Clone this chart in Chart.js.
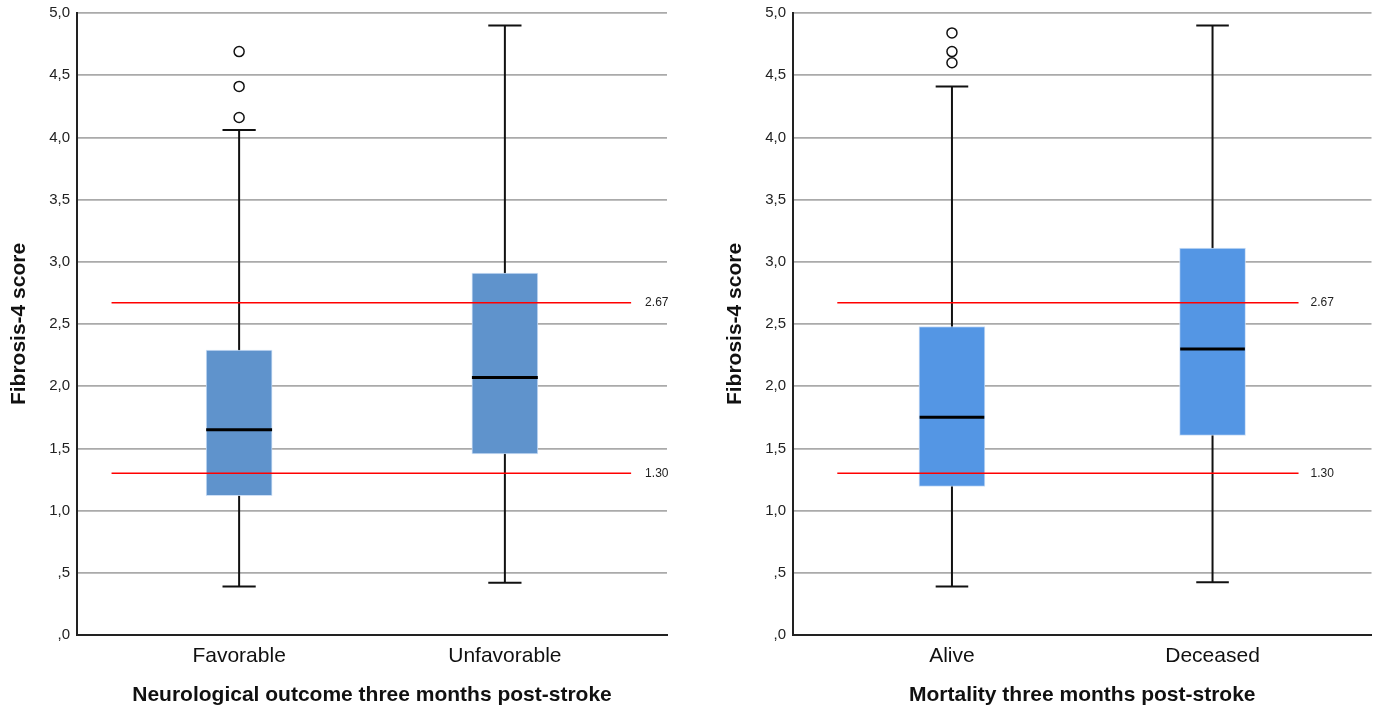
<!DOCTYPE html>
<html>
<head>
<meta charset="utf-8">
<script src="https://cdn.jsdelivr.net/npm/chart.js@4.4.1/dist/chart.umd.min.js"></script>
<style>
    html, body { margin: 0; padding: 0; background: #fff; }
    .panel { position: absolute; top: 0; }
    #panelLeft { left: 0; }
    #panelRight { left: 716px; }
</style>
</head>
<body>
<div class="panel" id="panelLeft"><canvas id="outcomeChart" width="680" height="708"></canvas></div>
<div class="panel" id="panelRight"><canvas id="mortalityChart" width="662" height="708"></canvas></div>
<script>
// ============ DATA ============
const yTicks = [0, 0.5, 1, 1.5, 2, 2.5, 3, 3.5, 4, 4.5, 5];
const cutoffValues = [2.67, 1.30];
const cutoffLabels = ['2.67', '1.30'];

const outcomeCategories = ['Favorable', 'Unfavorable'];
const outcomeLow = [0.39, 0.42];
const outcomeQ1 = [1.12, 1.455];
const outcomeMedian = [1.65, 2.07];
const outcomeQ3 = [2.29, 2.91];
const outcomeHigh = [4.06, 4.90];
const outcomeOutliers = [[4.16, 4.41, 4.69], []];

const mortalityCategories = ['Alive', 'Deceased'];
const mortalityLow = [0.39, 0.425];
const mortalityQ1 = [1.195, 1.605];
const mortalityMedian = [1.75, 2.30];
const mortalityQ3 = [2.48, 3.11];
const mortalityHigh = [4.41, 4.90];
const mortalityOutliers = [[4.60, 4.69, 4.84], []];

const FONT = '"Liberation Sans", Arial, sans-serif';

// ============ BOX PLOT PARTS (whiskers, caps, medians, cut-off lines) ============
const boxPartsPlugin = {
    id: 'boxParts',
    beforeDatasetsDraw(chart, args, opts) {
        const { ctx, scales: { x, y } } = chart;
        ctx.save();
        ctx.strokeStyle = '#111';
        ctx.lineWidth = 2;
        opts.low.forEach((lo, i) => {
            const cx = x.getPixelForValue(i);
            ctx.beginPath();
            ctx.moveTo(cx, y.getPixelForValue(lo));
            ctx.lineTo(cx, y.getPixelForValue(opts.high[i]));
            ctx.stroke();
            [lo, opts.high[i]].forEach(v => {
                const py = y.getPixelForValue(v);
                ctx.beginPath();
                ctx.moveTo(x.getPixelForValue(i - 0.0625), py);
                ctx.lineTo(x.getPixelForValue(i + 0.0625), py);
                ctx.stroke();
            });
        });
        ctx.restore();
    },
    afterDatasetsDraw(chart, args, opts) {
        const { ctx, scales: { x, y } } = chart;
        ctx.save();
        ctx.strokeStyle = '#000';
        ctx.lineWidth = 3;
        opts.median.forEach((m, i) => {
            const py = y.getPixelForValue(m);
            ctx.beginPath();
            ctx.moveTo(x.getPixelForValue(i - 0.124), py);
            ctx.lineTo(x.getPixelForValue(i + 0.124), py);
            ctx.stroke();
        });
        ctx.strokeStyle = '#ff0000';
        ctx.lineWidth = 1.5;
        ctx.fillStyle = '#222';
        ctx.font = '12px ' + FONT;
        ctx.textBaseline = 'middle';
        cutoffValues.forEach((v, i) => {
            const py = y.getPixelForValue(v);
            const xEnd = x.getPixelForValue(opts.lineTo);
            ctx.beginPath();
            ctx.moveTo(x.getPixelForValue(opts.lineFrom), py);
            ctx.lineTo(xEnd, py);
            ctx.stroke();
            ctx.fillText(cutoffLabels[i], xEnd + opts.labelGap, py);
        });
        ctx.restore();
    }
};

// ============ CHART FACTORY ============
function initBoxChart(canvasId, title, cats, low, q1, median, q3, high, outliers, boxColor, lineFrom, lineTo, labelGap, rightPad) {
    const el = document.getElementById(canvasId);
    if (!el) return null;

    const boxData = cats.map((c, i) => ({ x: i, y: [q1[i], q3[i]] }));
    const outlierData = [];
    outliers.forEach((list, i) => list.forEach(v => outlierData.push({ x: i, y: v })));

    return new Chart(el.getContext('2d'), {
        data: {
            datasets: [
                {
                    type: 'bar',
                    data: boxData,
                    backgroundColor: boxColor,
                    borderColor: 'rgba(200, 220, 245, 0.9)',
                    borderWidth: 1,
                    borderSkipped: false,
                    barThickness: 66,
                    order: 2
                },
                {
                    type: 'scatter',
                    data: outlierData,
                    pointStyle: 'circle',
                    pointRadius: 5,
                    pointBackgroundColor: '#fff',
                    pointBorderColor: '#111',
                    pointBorderWidth: 1.5,
                    order: 1
                }
            ]
        },
        options: {
            responsive: false,
            animation: false,
            layout: { padding: { top: 13, right: rightPad, left: 0, bottom: 0 } },
            plugins: {
                legend: { display: false },
                tooltip: { enabled: false },
                boxParts: { low: low, high: high, median: median, lineFrom: lineFrom, lineTo: lineTo, labelGap: labelGap }
            },
            scales: {
                x: {
                    type: 'linear',
                    min: -0.61,
                    max: 1.61,
                    offset: false,
                    afterBuildTicks: s => { s.ticks = cats.map((c, i) => ({ value: i })); },
                    afterFit: s => { s.height = 73; },
                    grid: { display: false, drawTicks: false },
                    border: { display: true, color: '#222', width: 2 },
                    ticks: {
                        padding: 9,
                        autoSkip: false,
                        maxRotation: 0,
                        color: '#111',
                        font: { family: FONT, size: 21 },
                        callback: v => cats[v]
                    },
                    title: {
                        display: true,
                        text: title,
                        color: '#111',
                        padding: { top: 0, bottom: 0 },
                        font: { family: FONT, size: 21, weight: 'bold' }
                    }
                },
                y: {
                    min: 0,
                    max: 5,
                    afterBuildTicks: s => { s.ticks = yTicks.map(v => ({ value: v })); },
                    afterFit: s => { s.width = 77; s.paddingTop = 0; s.paddingBottom = 0; },
                    grid: { color: '#aaaaaa', lineWidth: 1.7, drawTicks: false },
                    border: { display: true, color: '#222', width: 2 },
                    ticks: {
                        padding: 7,
                        color: '#222',
                        font: { family: FONT, size: 15 },
                        callback: v => v.toFixed(1).replace('.', ',').replace(/^0/, '')
                    },
                    title: {
                        display: true,
                        text: 'Fibrosis-4 score',
                        color: '#111',
                        padding: { top: 7, bottom: 0 },
                        font: { family: FONT, size: 21, weight: 'bold' }
                    }
                }
            }
        },
        plugins: [boxPartsPlugin]
    });
}

// ============ INITIALIZE ============
initBoxChart('outcomeChart', 'Neurological outcome three months post-stroke', outcomeCategories,
    outcomeLow, outcomeQ1, outcomeMedian, outcomeQ3, outcomeHigh, outcomeOutliers,
    '#5f93cc', -0.48, 1.475, 14, 13);
initBoxChart('mortalityChart', 'Mortality three months post-stroke', mortalityCategories,
    mortalityLow, mortalityQ1, mortalityMedian, mortalityQ3, mortalityHigh, mortalityOutliers,
    '#5496e4', -0.44, 1.33, 12, 5);
</script>
</body>
</html>
